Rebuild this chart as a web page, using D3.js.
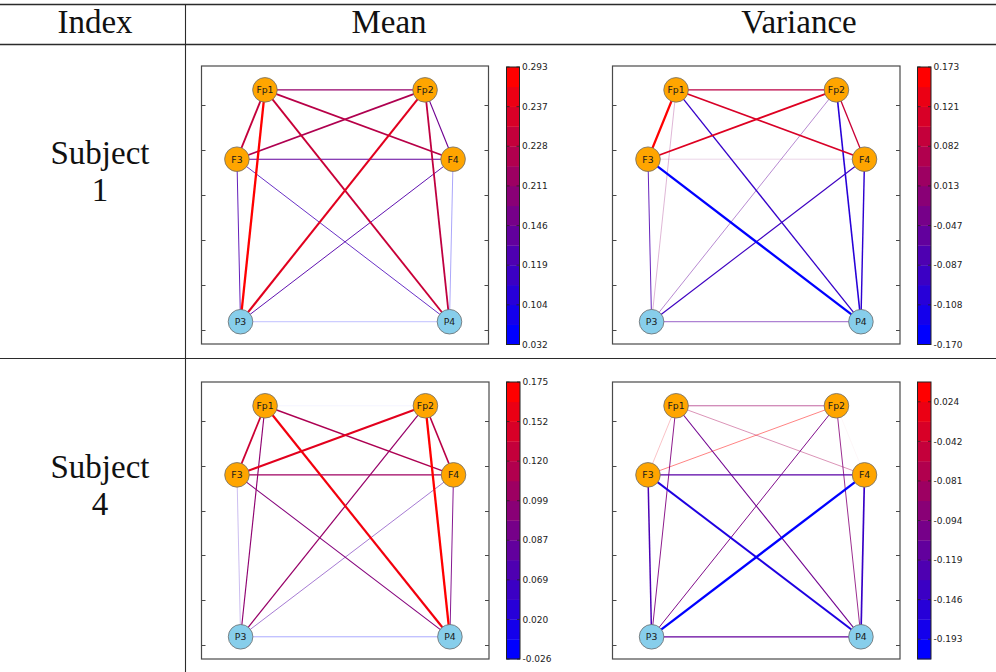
<!DOCTYPE html>
<html>
<head>
<meta charset="utf-8">
<script src="https://cdn.jsdelivr.net/npm/d3@7"></script>
<style>
  body { margin: 0; background: #fff; }
  svg { display: block; }
</style>
</head>
<body>
<svg id="fig" width="996" height="672"></svg>
<script>
// ---- Electrodes (graph nodes) ----
const channels = ["Fp1", "Fp2", "F3", "F4", "P3", "P4"];
const channelX = [-0.357, 0.357, -0.482, 0.482, -0.466, 0.466];
const channelY = [0.467, 0.467, 0.159, 0.159, -0.563, -0.563];
const channelRegion = ["frontal", "frontal", "frontal", "frontal", "parietal", "parietal"];

// ---- Connections (graph edges), one value per pair below ----
const edgePairs = [
  ["Fp1", "Fp2"], ["Fp1", "F3"], ["Fp1", "F4"], ["Fp1", "P3"], ["Fp1", "P4"],
  ["Fp2", "F3"], ["Fp2", "F4"], ["Fp2", "P3"], ["Fp2", "P4"],
  ["F3", "F4"], ["F3", "P3"], ["F3", "P4"],
  ["F4", "P3"], ["F4", "P4"],
  ["P3", "P4"]
];

const meanSubject1 = [0.185, 0.233, 0.220, 0.293, 0.237, 0.211, 0.146, 0.262, 0.228, 0.132, 0.112, 0.104, 0.119, 0.045, 0.032];
const varianceSubject1 = [0.082, 0.173, 0.121, 0.022, -0.098, 0.128, 0.100, -0.035, -0.118, 0.013, -0.065, -0.170, -0.087, -0.108, -0.047];
const meanSubject4 = [-0.004, 0.135, 0.110, 0.087, 0.165, 0.152, 0.120, 0.093, 0.175, 0.099, 0.020, 0.078, 0.040, 0.069, -0.026];
const varianceSubject4 = [-0.060, 0.024, -0.042, -0.088, -0.105, 0.048, -0.004, -0.094, -0.081, -0.130, -0.146, -0.193, -0.225, -0.165, -0.119];

// ---- Colour bar tick labels ----
const meanSubject1Ticks = [0.032, 0.104, 0.119, 0.146, 0.211, 0.228, 0.237, 0.293];
const varianceSubject1Ticks = [-0.170, -0.108, -0.087, -0.047, 0.013, 0.082, 0.121, 0.173];
const meanSubject4Ticks = [-0.026, 0.020, 0.069, 0.087, 0.099, 0.120, 0.152, 0.175];
const varianceSubject4Ticks = [-0.193, -0.146, -0.119, -0.094, -0.081, -0.042, 0.024];

// ---- Table labels ----
const columnLabels = ["Index", "Mean", "Variance"];
const rowLabels = [["Subject", "1"], ["Subject", "4"]];

// plot-area y ticks (tick marks only, no labels)
const yTicks = [-0.6, -0.4, -0.2, 0, 0.2, 0.4];

const svg = d3.select("#fig");
const ink = "#2b2b2b";

// ---- Table frame ----
const rules = svg.append("g").attr("stroke", ink);
rules.append("line").attr("x1", 0).attr("x2", 996).attr("y1", 4.5).attr("y2", 4.5).attr("stroke-width", 1.6);
rules.append("line").attr("x1", 0).attr("x2", 996).attr("y1", 44.5).attr("y2", 44.5).attr("stroke-width", 1.4);
rules.append("line").attr("x1", 0).attr("x2", 996).attr("y1", 358.5).attr("y2", 358.5).attr("stroke-width", 1.1);
rules.append("line").attr("x1", 185.5).attr("x2", 185.5).attr("y1", 4).attr("y2", 672).attr("stroke-width", 1.1);

const serif = "'Liberation Serif', 'DejaVu Serif', serif";
const headerX = [95, 389, 799];
svg.append("g").selectAll("text").data(columnLabels).join("text")
  .attr("x", (d, i) => headerX[i]).attr("y", 33)
  .attr("text-anchor", "middle")
  .attr("font-family", serif).attr("font-size", 33).attr("fill", "#111")
  .text(d => d);

const rowBase = [164, 478];
rowLabels.forEach((lines, r) => {
  svg.append("g").selectAll("text").data(lines).join("text")
    .attr("x", 100).attr("y", (d, i) => rowBase[r] + i * 37)
    .attr("text-anchor", "middle")
    .attr("font-family", serif).attr("font-size", 33).attr("fill", "#111")
    .text(d => d);
});

// ---- Network panels ----
const panels = [
  { values: meanSubject1, ticks: meanSubject1Ticks, box: [201.5, 66, 488.5, 344], bar: [506.5, 67, 519.5, 344.5] },
  { values: varianceSubject1, ticks: varianceSubject1Ticks, box: [612.5, 66, 900, 344], bar: [917.5, 67, 931, 344.5] },
  { values: meanSubject4, ticks: meanSubject4Ticks, box: [201.5, 382, 489, 659], bar: [506.5, 382, 520, 659] },
  { values: varianceSubject4, ticks: varianceSubject4Ticks, box: [612.5, 382, 900, 659], bar: [917.5, 382, 931, 659] }
];

const blueRed = d3.interpolateRgb("rgb(0,0,255)", "rgb(255,0,0)");
const nBands = edgePairs.length - 1;
const bandColors = d3.range(nBands).map(k => blueRed(k / (nBands - 1)));
const nodeFill = { frontal: "#FFA500", parietal: "#87CEEB" };
const sans = "'DejaVu Sans', sans-serif";
const fmt = d3.formatLocale({ decimal: ".", thousands: ",", grouping: [3], currency: ["", ""], minus: "-" }).format(".3f");

panels.forEach(p => {
  const [x0, y0, x1, y1] = p.box;
  const g = svg.append("g");

  const x = d3.scaleLinear().domain([-0.64, 0.64]).range([x0, x1]);
  const y = d3.scaleLinear().domain([-0.662, 0.573]).range([y1, y0]);

  // edges take a continuous blue-red colour over the value range
  const [vMin, vMax] = d3.extent(p.values);
  const tScale = d3.scaleLinear().domain([vMin, vMax]).range([0, 1]).clamp(true);
  const color = v => blueRed(tScale(v));
  const maxAbs = d3.max(p.values, v => Math.abs(v));
  const width = d3.scaleLinear().domain([0, maxAbs]).range([0, 2.3]);

  // frame and y tick marks
  g.append("rect").attr("x", x0).attr("y", y0).attr("width", x1 - x0).attr("height", y1 - y0)
    .attr("fill", "#fff").attr("stroke", "#4a4a4a").attr("stroke-width", 1.2);
  const tk = g.append("g").attr("stroke", "#4a4a4a").attr("stroke-width", 1);
  yTicks.forEach(t => {
    const yy = Math.round(y(t)) + 0.5;
    tk.append("line").attr("x1", x0).attr("x2", x0 + 4).attr("y1", yy).attr("y2", yy);
    tk.append("line").attr("x1", x1 - 4).attr("x2", x1).attr("y1", yy).attr("y2", yy);
  });

  // connections, weakest first
  const idx = d => channels.indexOf(d);
  const edges = edgePairs.map((e, i) => ({ a: idx(e[0]), b: idx(e[1]), v: p.values[i] }))
    .sort((m, n) => Math.abs(m.v) - Math.abs(n.v));
  g.append("g").selectAll("line").data(edges).join("line")
    .attr("x1", d => x(channelX[d.a])).attr("y1", d => y(channelY[d.a]))
    .attr("x2", d => x(channelX[d.b])).attr("y2", d => y(channelY[d.b]))
    .attr("stroke", d => color(d.v))
    .attr("stroke-width", d => width(Math.abs(d.v)));

  // electrodes
  const nodes = g.append("g").selectAll("g").data(channels).join("g")
    .attr("transform", (d, i) => `translate(${x(channelX[i])},${y(channelY[i])})`);
  nodes.append("circle").attr("r", 12.3)
    .attr("fill", (d, i) => nodeFill[channelRegion[i]])
    .attr("stroke", "#6b6b6b").attr("stroke-width", 0.8);
  nodes.append("text").attr("text-anchor", "middle").attr("dy", "0.36em")
    .attr("font-family", sans).attr("font-size", 9.3).attr("fill", "#1a1a1a")
    .text(d => d);

  // colour bar: one band between consecutive sorted values
  const bounds = p.values.slice().sort(d3.ascending);
  const [bx0, by0, bx1, by1] = p.bar;
  const band = d3.scaleLinear().domain([0, nBands]).range([by1, by0]);
  const cb = svg.append("g");
  cb.selectAll("rect").data(bandColors).join("rect")
    .attr("x", bx0).attr("width", bx1 - bx0)
    .attr("y", (d, k) => band(k + 1)).attr("height", (d, k) => band(k) - band(k + 1) + 0.3)
    .attr("fill", d => d);
  cb.append("rect").attr("x", bx0).attr("y", by0).attr("width", bx1 - bx0).attr("height", by1 - by0)
    .attr("fill", "none").attr("stroke", "#222").attr("stroke-width", 1);
  p.ticks.forEach(t => {
    const k = bounds.findIndex(v => Math.abs(v - t) < 1e-9);
    const yy = band(k);
    cb.append("line").attr("x1", bx0).attr("x2", bx0 + 3).attr("y1", yy).attr("y2", yy).attr("stroke", "#222").attr("stroke-width", 0.8);
    cb.append("line").attr("x1", bx1 - 3).attr("x2", bx1).attr("y1", yy).attr("y2", yy).attr("stroke", "#222").attr("stroke-width", 0.8);
    cb.append("text").attr("x", bx1 + 2.5).attr("y", yy).attr("dy", "0.35em")
      .attr("font-family", sans).attr("font-size", 9).attr("fill", "#222")
      .text(fmt(t));
  });
});
</script>
</body>
</html>
